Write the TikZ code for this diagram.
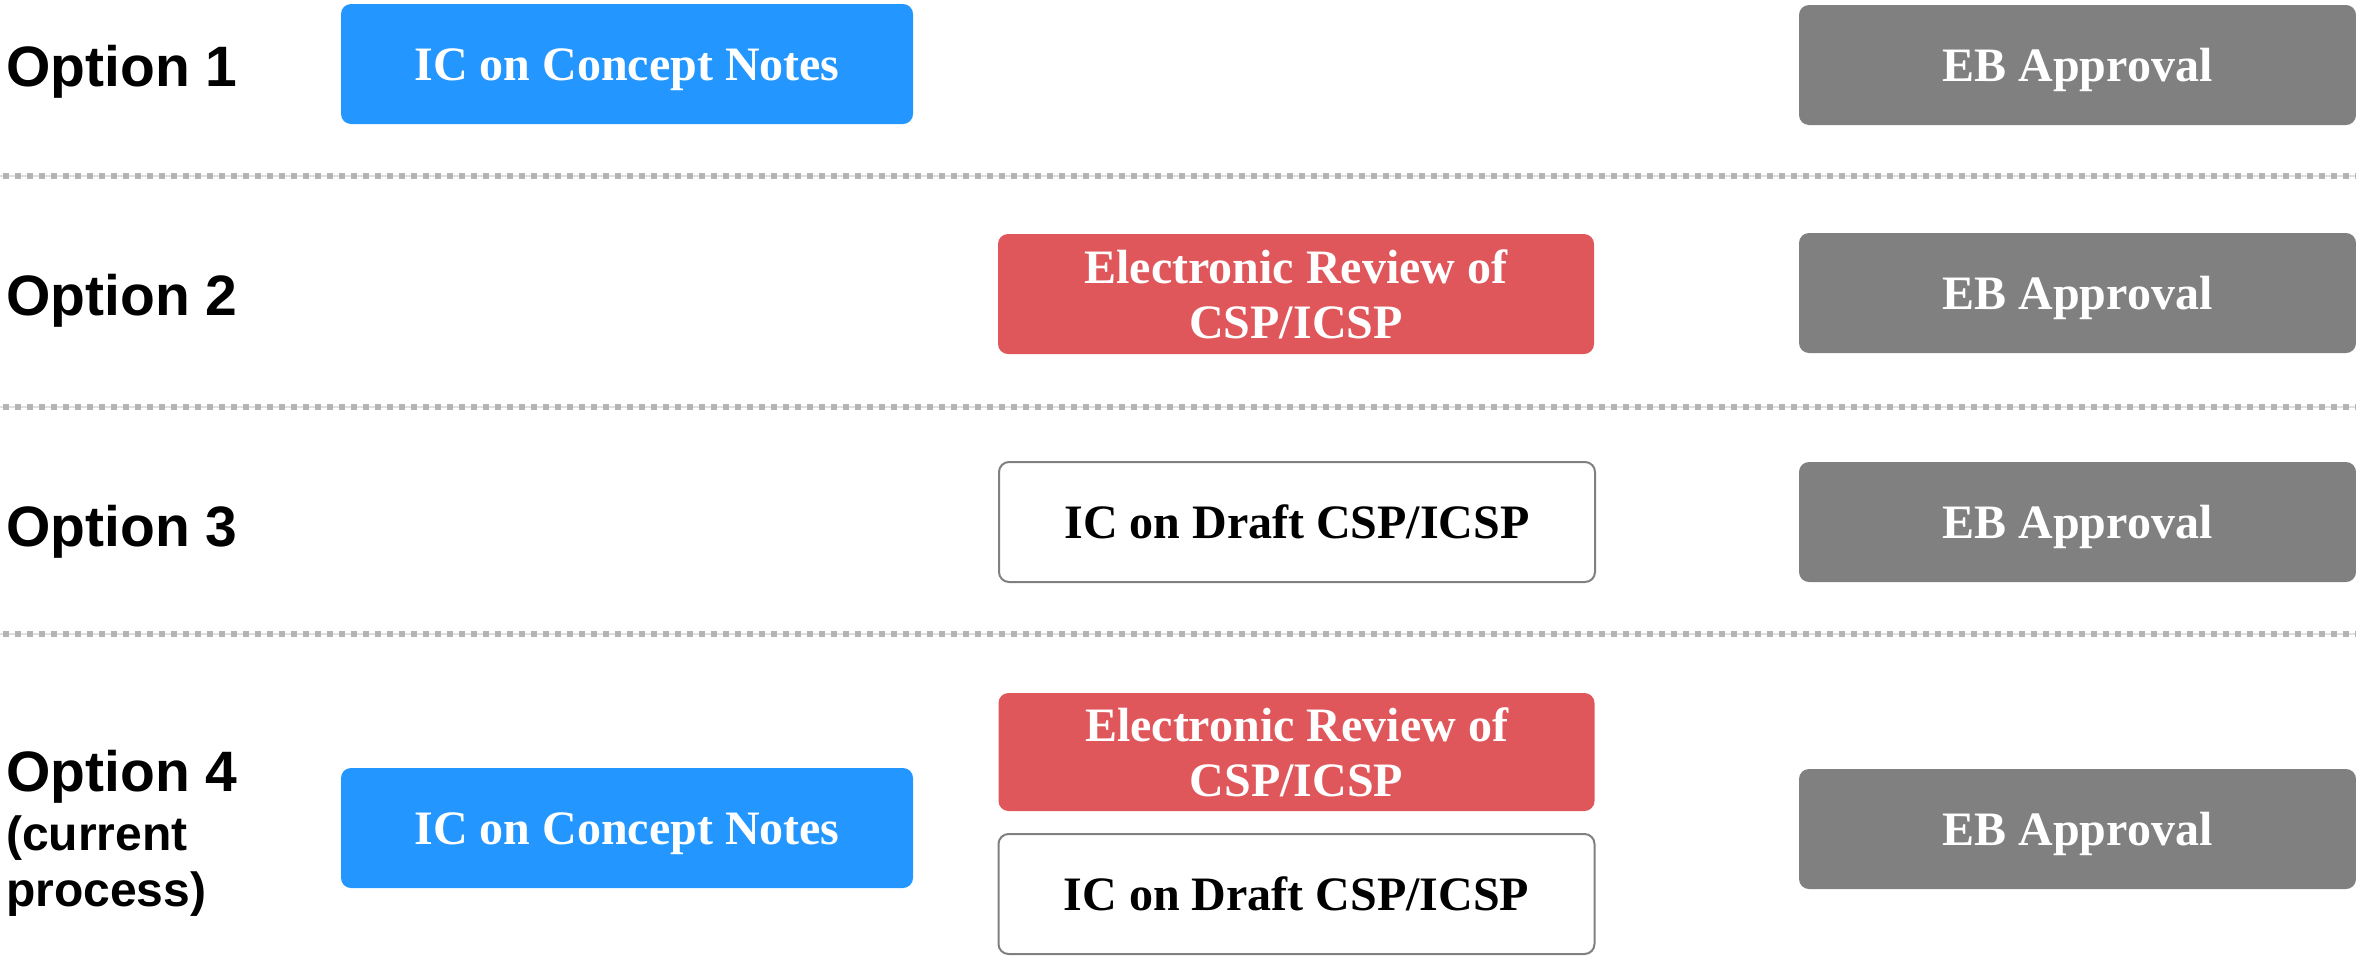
\documentclass[tikz,border=0pt]{standalone}
\usepackage{fontspec}
\setmainfont{Liberation Serif}
\newfontfamily\labelfont{Liberation Sans}
\usetikzlibrary{positioning}

\definecolor{icblue}{RGB}{35,151,255}
\definecolor{erred}{RGB}{224,87,91}
\definecolor{ebgray}{RGB}{128,128,128}
\definecolor{sepgray}{RGB}{180,180,180}

\begin{document}
\begin{tikzpicture}[
      x=1pt, y=-1pt,
      box/.style={rounded corners=10pt, minimum height=120pt, align=center,
        font=\fontsize{48}{55}\selectfont\bfseries, inner sep=0pt},
      ONE/.style={text height=36pt, text depth=4pt},
      IC/.style={box, ONE, fill=icblue, text=white, minimum width=572pt},
      ER/.style={box, fill=erred, text=white, minimum width=596pt},
      DR/.style={box, ONE, draw=ebgray, line width=2pt, fill=white, minimum width=596pt},
      EB/.style={box, ONE, fill=ebgray, text=white, minimum width=557pt},
      OPT/.style={anchor=west, inner sep=0pt, text height=41pt, text depth=0pt,
        font=\labelfont\fontsize{57}{60}\selectfont\bfseries},
      SEP/.style={sepgray, line width=6pt, dash pattern=on 6pt off 6pt}]
      \useasboundingbox (0,0) rectangle (2356,959);

      % row labels
      \node[OPT] (opt1) at (6,66) {Option 1};
      \node[OPT] (opt2) at (6,295) {Option 2};
      \node[OPT] (opt3) at (6,526) {Option 3};
      \node[OPT] (opt4) at (6,771) {Option 4};
      \node[anchor=north west, align=left, inner sep=0pt,
        font=\labelfont\fontsize{48}{56}\selectfont\bfseries] (cur) at (6,816) {(current\\process)};

      % option 1
      \node[IC] (ic1) at (627,64) {IC on Concept Notes};
      \node[EB] (eb1) at (2077.5,65) {EB Approval};

      % option 2
      \node[ER] (er2) at (1296,294) {Electronic Review of\\CSP/ICSP};
      \node[EB] (eb2) at (2077.5,293) {EB Approval};

      % option 3
      \node[DR] (dr3) at (1297,522) {IC on Draft CSP/ICSP};
      \node[EB] (eb3) at (2077.5,522) {EB Approval};

      % option 4
      \node[IC] (ic4) at (627,828) {IC on Concept Notes};
      \node[ER, minimum height=118pt] (er4) at (1296.5,752) {Electronic Review of\\CSP/ICSP};
      \node[DR] (dr4) at (1296.5,894) {IC on Draft CSP/ICSP};
      \node[EB] (eb4) at (2077.5,829) {EB Approval};

      % separators
      \foreach \y in {176,407,634} {
        \draw[gray!25, line width=1.5pt] (0,\y) -- (2356,\y);
        \draw[SEP] (3,\y) -- (2356,\y);
      }
    \end{tikzpicture}
\end{document}
